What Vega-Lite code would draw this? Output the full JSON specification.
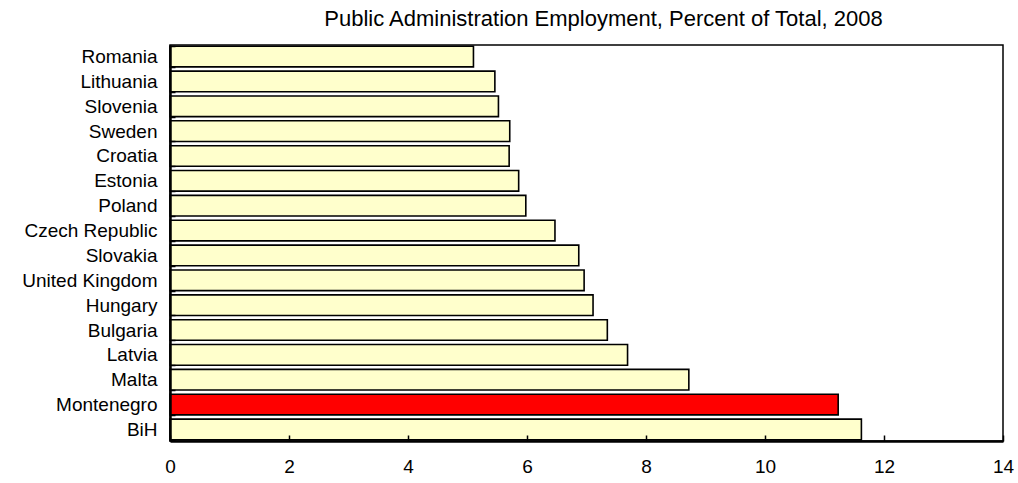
{
  "$schema": "https://vega.github.io/schema/vega-lite/v6.json",
  "autosize": "none",
  "width": 833,
  "height": 396,
  "padding": {"left": 170, "top": 45, "right": 15, "bottom": 42},
  "background": "white",
  "title": {
    "text": "Public Administration Employment, Percent of Total, 2008",
    "font": "Liberation Sans",
    "fontSize": 22,
    "fontWeight": "normal",
    "color": "black",
    "anchor": "middle",
    "dx": 17,
    "offset": 5
  },
  "data": {
    "values": [
      {"country": "Romania", "value": 5.10},
      {"country": "Lithuania", "value": 5.46},
      {"country": "Slovenia", "value": 5.52},
      {"country": "Sweden", "value": 5.71},
      {"country": "Croatia", "value": 5.70},
      {"country": "Estonia", "value": 5.86},
      {"country": "Poland", "value": 5.98},
      {"country": "Czech Republic", "value": 6.47},
      {"country": "Slovakia", "value": 6.87},
      {"country": "United Kingdom", "value": 6.96},
      {"country": "Hungary", "value": 7.11},
      {"country": "Bulgaria", "value": 7.35},
      {"country": "Latvia", "value": 7.69},
      {"country": "Malta", "value": 8.72},
      {"country": "Montenegro", "value": 11.23},
      {"country": "BiH", "value": 11.62}
    ]
  },
  "mark": {"type": "bar", "stroke": "black", "strokeWidth": 1.6},
  "encoding": {
    "y": {
      "field": "country",
      "type": "nominal",
      "sort": null,
      "scale": {"paddingInner": 0.17, "paddingOuter": 0.05},
      "axis": {
        "title": null,
        "zindex": 1,
        "labelFont": "Liberation Sans",
        "labelFontSize": 19,
        "labelColor": "black",
        "labelPadding": 18,
        "tickSize": -5,
        "tickColor": "black",
        "tickWidth": 1.5,
        "tickBand": "extent",
        "domainColor": "black",
        "domainWidth": 2.5
      }
    },
    "x": {
      "field": "value",
      "type": "quantitative",
      "scale": {"domain": [0, 14], "nice": false},
      "axis": {
        "title": null,
        "zindex": 1,
        "values": [0, 2, 4, 6, 8, 10, 12, 14],
        "grid": false,
        "labelFont": "Liberation Sans",
        "labelFontSize": 19,
        "labelColor": "black",
        "labelPadding": 22,
        "tickSize": -6,
        "tickColor": "black",
        "tickWidth": 1.5,
        "domainColor": "black",
        "domainWidth": 2.5,
        "labelFlush": false
      }
    },
    "color": {
      "condition": {"test": "datum.country === 'Montenegro'", "value": "#FF0000"},
      "value": "#FFFFCC"
    }
  },
  "config": {
    "view": {"stroke": "black", "strokeWidth": 1.5},
    "bar": {"opacity": 1}
  }
}
